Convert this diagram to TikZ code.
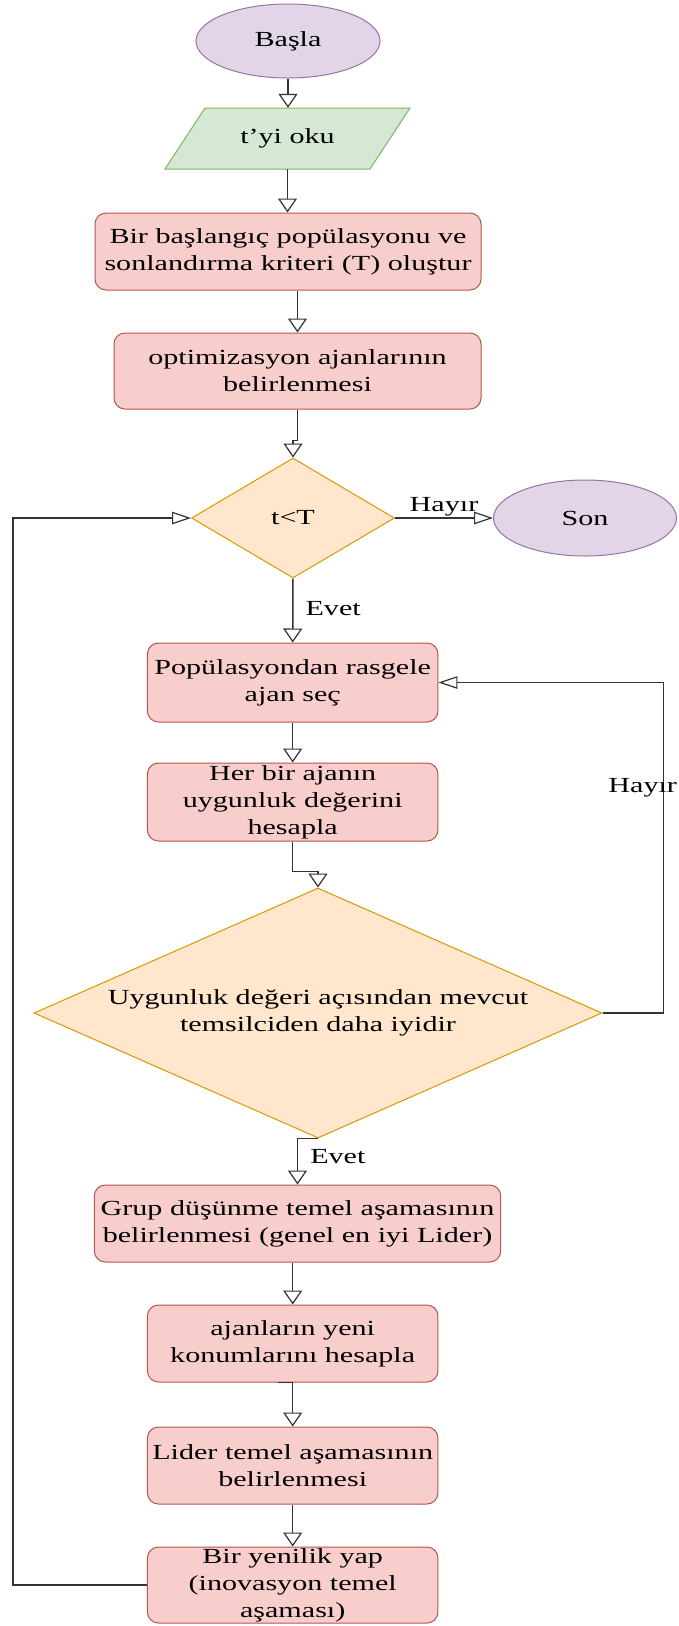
\documentclass[tikz,border=0pt]{standalone}
\usepackage{fontspec}
\setmainfont{Liberation Serif}[FakeStretch=1.4]
\usetikzlibrary{shapes.geometric,arrows.meta}
\definecolor{pfill}{HTML}{E1D5E7}
\definecolor{pdraw}{HTML}{9673A6}
\definecolor{gfill}{HTML}{D5E8D4}
\definecolor{gdraw}{HTML}{82B366}
\definecolor{rfill}{HTML}{F8CECC}
\definecolor{rdraw}{HTML}{B85450}
\definecolor{ofill}{HTML}{FFE6CC}
\definecolor{odraw}{HTML}{D79B00}
\definecolor{lcol}{HTML}{333333}
\begin{document}
\begin{tikzpicture}[x=1pt,y=-1pt,
  font={\fontsize{21.5pt}{27pt}\selectfont},
  term/.style={ellipse, draw=pdraw, fill=pfill, line width=1pt, inner sep=0pt},
  proc/.style={rectangle, rounded corners=11pt, draw=rdraw, fill=rfill, line width=1pt, align=center, inner sep=0pt},
  dec/.style={diamond, draw=odraw, fill=ofill, line width=1pt, align=center, inner sep=0pt},
  varr/.style={draw=lcol, line width=1.5pt, -{Triangle[open, length=14pt, width=19pt, line width=1.2pt, fill=white]}},
  harr/.style={draw=lcol, line width=1.5pt, -{Triangle[open, length=19pt, width=12.5pt, line width=1.2pt, fill=white]}},
  lbl/.style={inner sep=2pt, text=black}
]
\useasboundingbox (0,0) rectangle (678,1626);
\fill[white] (0,0) rectangle (678,1626);

% nodes
\node[term, minimum width=184pt, minimum height=74pt] (start) at (288,41) {Başla};
\filldraw[fill=gfill, draw=gdraw, line width=1pt] (205,108) -- (410,108) -- (370,169) -- (165,169) -- cycle;
\node[minimum width=205pt, minimum height=61pt, inner sep=0pt] (read) at (287.5,138.5) {t\char39yi oku};
\node[proc, minimum width=386pt, minimum height=77pt] (b1) at (288,251.5) {Bir başlangıç popülasyonu ve\\sonlandırma kriteri (T) oluştur};
\node[proc, minimum width=367pt, minimum height=76pt] (b2) at (297.5,371) {optimizasyon ajanlarının\\belirlenmesi};
\node[dec, shape aspect=1.69, minimum width=203pt, minimum height=120pt] (d1) at (293,518) {t<T};
\node[term, minimum width=183pt, minimum height=76pt] (son) at (585,518) {Son};
\node[proc, minimum width=290.5pt, minimum height=79pt] (b3) at (292.7,682.5) {Popülasyondan rasgele\\ajan seç};
\node[proc, minimum width=290.5pt, minimum height=78pt] (b4) at (292.7,802) {Her bir ajanın\\uygunluk değerini\\hesapla};
\node[dec, shape aspect=2.272, minimum width=568pt, minimum height=250pt] (d2) at (318,1013) {Uygunluk değeri açısından mevcut\\temsilciden daha iyidir};
\node[proc, minimum width=406.4pt, minimum height=77pt] (b5) at (297.5,1223.5) {Grup düşünme temel aşamasının\\belirlenmesi (genel en iyi Lider)};
\node[proc, minimum width=290.5pt, minimum height=77pt] (b6) at (292.7,1343.5) {ajanların yeni\\konumlarını hesapla};
\node[proc, minimum width=290.5pt, minimum height=77pt] (b7) at (292.7,1465.5) {Lider temel aşamasının\\belirlenmesi};
\node[proc, minimum width=290.5pt, minimum height=76pt] (b8) at (292.7,1585) {Bir yenilik yap\\(inovasyon temel\\aşaması)};

\coordinate (rloop) at (663.7,1013);
\coordinate (lloop) at (13,1585);

% connectors
\draw[varr] (start.south) -- (start.south |- read.north);
\draw[varr] (read.south) -- (read.south |- b1.north);
\draw[varr] (b2.north |- b1.south) -- (b2.north);
\draw[varr] (b2.south) -- ++(0,31) -| (d1.north);
\draw[harr] (d1.east) -- node[lbl, above, yshift=-1pt] {Hayır} (son.west);
\draw[varr] (d1.south) -- node[lbl, anchor=west, xshift=10pt, yshift=2pt] {Evet} (b3.north);
\draw[varr] (b3.south) -- (b4.north);
\draw[varr] (b4.south) -- ++(0,30) -| (d2.north);
\draw[harr] (d2.east) -- (rloop) |- node[lbl, pos=0.341, xshift=-21pt] {Hayır} (b3.east);
\draw[varr] (d2.south) -| node[lbl, pos=0.7, anchor=west, xshift=10pt] {Evet} (b5.north);
\draw[varr] (b5.south -| b6.north) -- (b6.north);
\draw[varr] ([xshift=-14.7pt]b6.south) -- (b6.south) -- (b7.north);
\draw[varr] (b7.south) -- (b8.north);
\draw[harr] (b8.west) -- (lloop) |- (d1.west);
\end{tikzpicture}
\end{document}
